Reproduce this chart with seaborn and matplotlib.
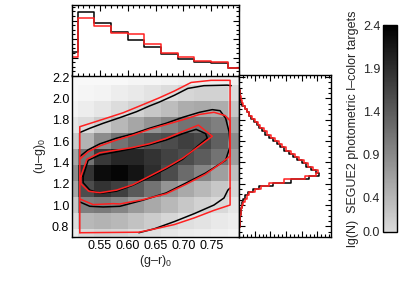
import numpy as np
import matplotlib
matplotlib.use("Agg")
import matplotlib.pyplot as plt
import seaborn as sns
from matplotlib.colors import LinearSegmentedColormap, Normalize
from matplotlib.cm import ScalarMappable
from matplotlib.ticker import MultipleLocator, FixedLocator, NullFormatter

# ---- data ----
# (g-r)_0 bins shared by the 2D map and the top histogram
gr_edges = [0.48, 0.51, 0.54, 0.57, 0.60, 0.63, 0.66, 0.69, 0.72, 0.75, 0.78, 0.81]
# (u-g)_0 rows of the 2D map
ug_map_edges = [0.625, 0.775, 0.925, 1.075, 1.225, 1.375, 1.525, 1.675, 1.825, 1.975, 2.125, 2.275]

# lg(N) per cell, rows from bottom (0.70) to top (2.20)
lgN = [
    [-0.18, 0.02, 0.08, 0.05, -0.01, -0.06, -0.12, -0.18, -0.20, -0.23, -0.26],
    [-0.01, 0.38, 0.44, 0.38, 0.27, 0.16, 0.05, -0.04, -0.09, -0.15, -0.20],
    [0.22, 1.00, 1.06, 0.94, 0.72, 0.55, 0.38, 0.22, 0.10, 0.02, -0.12],
    [0.58, 1.56, 1.84, 1.70, 1.42, 1.14, 0.78, 0.55, 0.38, 0.22, 0.05],
    [0.86, 1.84, 2.26, 2.34, 2.18, 1.90, 1.56, 1.22, 0.94, 0.66, 0.30],
    [0.58, 1.14, 1.78, 1.98, 1.98, 1.84, 1.67, 1.56, 1.39, 1.14, 0.66],
    [0.16, 0.44, 0.86, 1.14, 1.34, 1.50, 1.56, 1.70, 1.62, 1.34, 0.86],
    [-0.12, -0.01, 0.16, 0.38, 0.58, 0.78, 0.94, 1.14, 1.14, 1.00, 0.58],
    [-0.26, -0.20, -0.12, -0.01, 0.10, 0.22, 0.33, 0.50, 0.55, 0.50, 0.22],
    [-0.32, -0.29, -0.26, -0.20, -0.15, -0.09, -0.01, 0.05, 0.10, 0.10, -0.01],
    [-0.32, -0.32, -0.32, -0.32, -0.29, -0.29, -0.26, -0.23, -0.20, -0.20, -0.23],
]

# top histogram: fraction per (g-r)_0 bin
top_black = [0.066, 0.174, 0.144, 0.120, 0.097, 0.078, 0.059, 0.046, 0.039, 0.034, 0.021]
top_red = [0.051, 0.156, 0.135, 0.117, 0.113, 0.086, 0.063, 0.051, 0.041, 0.037, 0.022]

# right histogram: percent per 0.03 bin of (u-g)_0, from 0.70 upward
right_black = [0.1, 0.1, 0.1, 0.2, 0.2, 0.3, 0.3, 0.5, 0.6, 0.9, 1.1, 1.4, 1.9, 3.0, 4.6,
               6.4, 10.8, 16.6, 22.3, 25.6, 24.5, 22.9, 21.3, 20.1, 18.5, 17.2, 15.9, 14.3,
               13.1, 12.1, 10.8, 9.6, 8.4, 7.3, 6.4, 5.6, 4.8, 3.8, 3.2, 2.4, 1.8, 1.1, 0.7,
               0.4, 0.3, 0.2, 0.1, 0.1, 0.0, 0.0, 0.0]
right_red = [0.1, 0.1, 0.1, 0.2, 0.2, 0.3, 0.4, 0.5, 0.7, 1.0, 1.3, 1.8, 2.4, 3.3, 5.1,
             7.0, 9.6, 14.3, 21.0, 24.5, 25.2, 23.6, 22.0, 20.7, 19.1, 17.8, 16.6, 15.0,
             13.7, 12.7, 11.5, 10.2, 8.9, 8.0, 6.8, 5.9, 5.1, 4.1, 3.3, 2.5, 1.9, 1.3, 0.8,
             0.5, 0.3, 0.2, 0.1, 0.1, 0.1, 0.0, 0.0]

# contour lines (g-r, u-g)
outer_black_hi_x = [0.514, 0.532, 0.556, 0.586, 0.616, 0.639, 0.656, 0.684, 0.708, 0.737, 0.779, 0.786]
outer_black_hi_y = [1.68, 1.72, 1.767, 1.82, 1.876, 1.929, 1.964, 2.03, 2.094, 2.12, 2.125, 2.12]
outer_black_lo_x = [0.62, 0.648, 0.684, 0.72, 0.755, 0.773, 0.780, 0.784]
outer_black_lo_y = [0.74, 0.777, 0.845, 0.92, 1.0, 1.066, 1.14, 1.16]
outer_red_x = [0.514, 0.514, 0.556, 0.592, 0.627, 0.656, 0.684, 0.714, 0.75, 0.784, 0.784,
               0.755, 0.72, 0.684, 0.648, 0.62, 0.514]
outer_red_y = [0.74, 1.735, 1.805, 1.866, 1.941, 2.004, 2.07, 2.15, 2.17, 2.17, 1.0,
               0.95, 0.88, 0.817, 0.775, 0.745, 0.74]
mid_black_x = [0.514, 0.529, 0.550, 0.580, 0.609, 0.639, 0.669, 0.699, 0.729, 0.752, 0.766,
               0.776, 0.782, 0.784, 0.776, 0.740, 0.705, 0.669, 0.627, 0.586, 0.556, 0.532, 0.514]
mid_black_y = [1.455, 1.518, 1.574, 1.627, 1.667, 1.72, 1.767, 1.823, 1.87, 1.895, 1.885,
               1.814, 1.69, 1.55, 1.42, 1.30, 1.207, 1.113, 1.045, 0.988, 0.982, 0.988, 1.029]
mid_red_x = [0.514, 0.529, 0.550, 0.580, 0.609, 0.639, 0.669, 0.699, 0.729, 0.755, 0.775,
             0.784, 0.784, 0.770, 0.740, 0.705, 0.669, 0.627, 0.586, 0.574, 0.538, 0.514]
mid_red_y = [1.43, 1.50, 1.555, 1.61, 1.655, 1.71, 1.755, 1.80, 1.85, 1.87, 1.84,
             1.79, 1.46, 1.40, 1.29, 1.195, 1.105, 1.05, 1.01, 1.013, 1.004, 1.057]
in_black_x = [0.520, 0.529, 0.550, 0.580, 0.609, 0.639, 0.669, 0.699, 0.723, 0.740, 0.743,
              0.725, 0.699, 0.669, 0.639, 0.609, 0.580, 0.550, 0.532, 0.520, 0.520]
in_black_y = [1.27, 1.42, 1.47, 1.50, 1.53, 1.565, 1.61, 1.67, 1.71, 1.67, 1.627,
              1.55, 1.43, 1.34, 1.26, 1.185, 1.13, 1.11, 1.14, 1.21, 1.27]
in_red_x = [0.516, 0.527, 0.550, 0.580, 0.609, 0.639, 0.669, 0.699, 0.727, 0.752, 0.730,
            0.699, 0.669, 0.639, 0.609, 0.580, 0.550, 0.530, 0.516, 0.516]
in_red_y = [1.27, 1.43, 1.49, 1.515, 1.54, 1.575, 1.625, 1.69, 1.75, 1.645, 1.56,
            1.44, 1.35, 1.27, 1.19, 1.14, 1.115, 1.13, 1.20, 1.27]

cbar_ticks = [0.0, 0.4, 0.9, 1.4, 1.9, 2.4]
cbar_minor = [0.2, 0.65, 1.15, 1.65, 2.15]

# ---- style ----
sns.set_style("ticks")
plt.rcParams["font.family"] = ["Liberation Sans", "DejaVu Sans"]
plt.rcParams["mathtext.fontset"] = "custom"
plt.rcParams["mathtext.rm"] = "Liberation Sans"
plt.rcParams["mathtext.it"] = "Liberation Sans"
plt.rcParams["font.size"] = 9
plt.rcParams["axes.linewidth"] = 1.0
plt.rcParams["axes.edgecolor"] = "black"

RED = "#ff2020"


def idl_ticks(ax):
    ax.tick_params(which="both", direction="in", top=True, right=True, color="black",
                   labelsize=9, labelcolor="black", width=0.8, pad=2)
    ax.tick_params(which="major", length=4)
    ax.tick_params(which="minor", length=2)


fig = plt.figure(figsize=(3.99, 2.91), dpi=100)
W, H = 399, 291
ax_main = fig.add_axes([72 / W, (H - 237) / H, 167 / W, 162 / H])
ax_top = fig.add_axes([72 / W, (H - 76) / H, 167 / W, 71 / H])
ax_right = fig.add_axes([239 / W, (H - 237) / H, 92 / W, 162 / H])
cax = fig.add_axes([383 / W, (H - 232) / H, 14 / W, 207 / H])

# 2D map
img_cmap = LinearSegmentedColormap.from_list("img", ["white", "black"])
ax_main.pcolormesh(gr_edges, ug_map_edges, np.array(lgN), cmap=img_cmap, vmin=-0.4, vmax=2.4)

for xs, ys, c in [(outer_black_hi_x, outer_black_hi_y, "black"),
                  (outer_black_lo_x, outer_black_lo_y, "black"),
                  (mid_black_x, mid_black_y, "black"),
                  (in_black_x, in_black_y, "black"),
                  (outer_red_x, outer_red_y, RED),
                  (mid_red_x, mid_red_y, RED),
                  (in_red_x, in_red_y, RED)]:
    ax_main.plot(xs, ys, color=c, lw=1.1)

ax_main.set_xlim(0.5, 0.8)
ax_main.set_ylim(0.7, 2.22)
ax_main.xaxis.set_major_locator(FixedLocator([0.55, 0.60, 0.65, 0.70, 0.75]))
ax_main.xaxis.set_minor_locator(MultipleLocator(0.01))
ax_main.yaxis.set_major_locator(FixedLocator([0.8, 1.0, 1.2, 1.4, 1.6, 1.8, 2.0, 2.2]))
ax_main.yaxis.set_minor_locator(MultipleLocator(0.05))
ax_main.set_xticklabels(["0.55", "0.60", "0.65", "0.70", "0.75"])
ax_main.set_yticklabels(["0.8", "1.0", "1.2", "1.4", "1.6", "1.8", "2.0", "2.2"])
ax_main.set_xlabel("(g–r)$_\\mathrm{0}$", fontsize=9, labelpad=1)
ax_main.set_ylabel("(u–g)$_\\mathrm{0}$", fontsize=9, labelpad=3)
idl_ticks(ax_main)

# top histogram
gr_centers = [(gr_edges[i] + gr_edges[i + 1]) / 2 for i in range(len(gr_edges) - 1)]
sns.histplot(x=gr_centers, weights=top_black, bins=gr_edges, element="step", fill=False,
             color="black", linewidth=1.1, ax=ax_top)
sns.histplot(x=gr_centers, weights=top_red, bins=gr_edges, element="step", fill=False,
             color=RED, linewidth=1.1, ax=ax_top)
ax_top.set_xlim(0.5, 0.8)
ax_top.set_ylim(0, 0.192)
ax_top.xaxis.set_major_locator(MultipleLocator(0.05))
ax_top.xaxis.set_minor_locator(MultipleLocator(0.01))
ax_top.yaxis.set_major_locator(MultipleLocator(0.05))
ax_top.yaxis.set_minor_locator(MultipleLocator(0.0125))
ax_top.xaxis.set_major_formatter(NullFormatter())
ax_top.yaxis.set_major_formatter(NullFormatter())
ax_top.set_xlabel("")
ax_top.set_ylabel("")
idl_ticks(ax_top)

# right histogram
ug_edges = np.round(np.arange(0.70, 2.2301, 0.03), 3).tolist()
ug_centers = [(ug_edges[i] + ug_edges[i + 1]) / 2 for i in range(len(ug_edges) - 1)]
sns.histplot(y=ug_centers, weights=right_black, bins=ug_edges, element="step", fill=False,
             color="black", linewidth=1.1, ax=ax_right)
sns.histplot(y=ug_centers, weights=right_red, bins=ug_edges, element="step", fill=False,
             color=RED, linewidth=1.1, ax=ax_right)
ax_right.set_ylim(0.7, 2.22)
ax_right.set_xlim(0, 29.3)
ax_right.xaxis.set_major_locator(MultipleLocator(5))
ax_right.xaxis.set_minor_locator(MultipleLocator(1.25))
ax_right.yaxis.set_major_locator(MultipleLocator(0.2))
ax_right.yaxis.set_minor_locator(MultipleLocator(0.05))
ax_right.xaxis.set_major_formatter(NullFormatter())
ax_right.yaxis.set_major_formatter(NullFormatter())
ax_right.set_xlabel("")
ax_right.set_ylabel("")
idl_ticks(ax_right)

# colorbar
cbar_cmap = LinearSegmentedColormap.from_list("cb", [(0.857, 0.857, 0.857), "black"])
sm = ScalarMappable(norm=Normalize(0, 2.4), cmap=cbar_cmap)
cb = fig.colorbar(sm, cax=cax)
cb.set_ticks(cbar_ticks)
cb.set_ticklabels(["0.0", "0.4", "0.9", "1.4", "1.9", "2.4"])
cb.outline.set_linewidth(1.0)
cax.yaxis.set_minor_locator(FixedLocator(cbar_minor))
cax.yaxis.set_ticks_position("left")
cax.yaxis.set_label_position("left")
cax.tick_params(which="both", direction="in", width=0.8, labelsize=9, pad=2)
cax.tick_params(which="major", length=3)
cax.tick_params(which="minor", length=1.5)
cb.set_label("lg(N)  SEGUE2 photometric l–color targets", fontsize=9, labelpad=3)

fig.savefig("out.png", dpi=100)
